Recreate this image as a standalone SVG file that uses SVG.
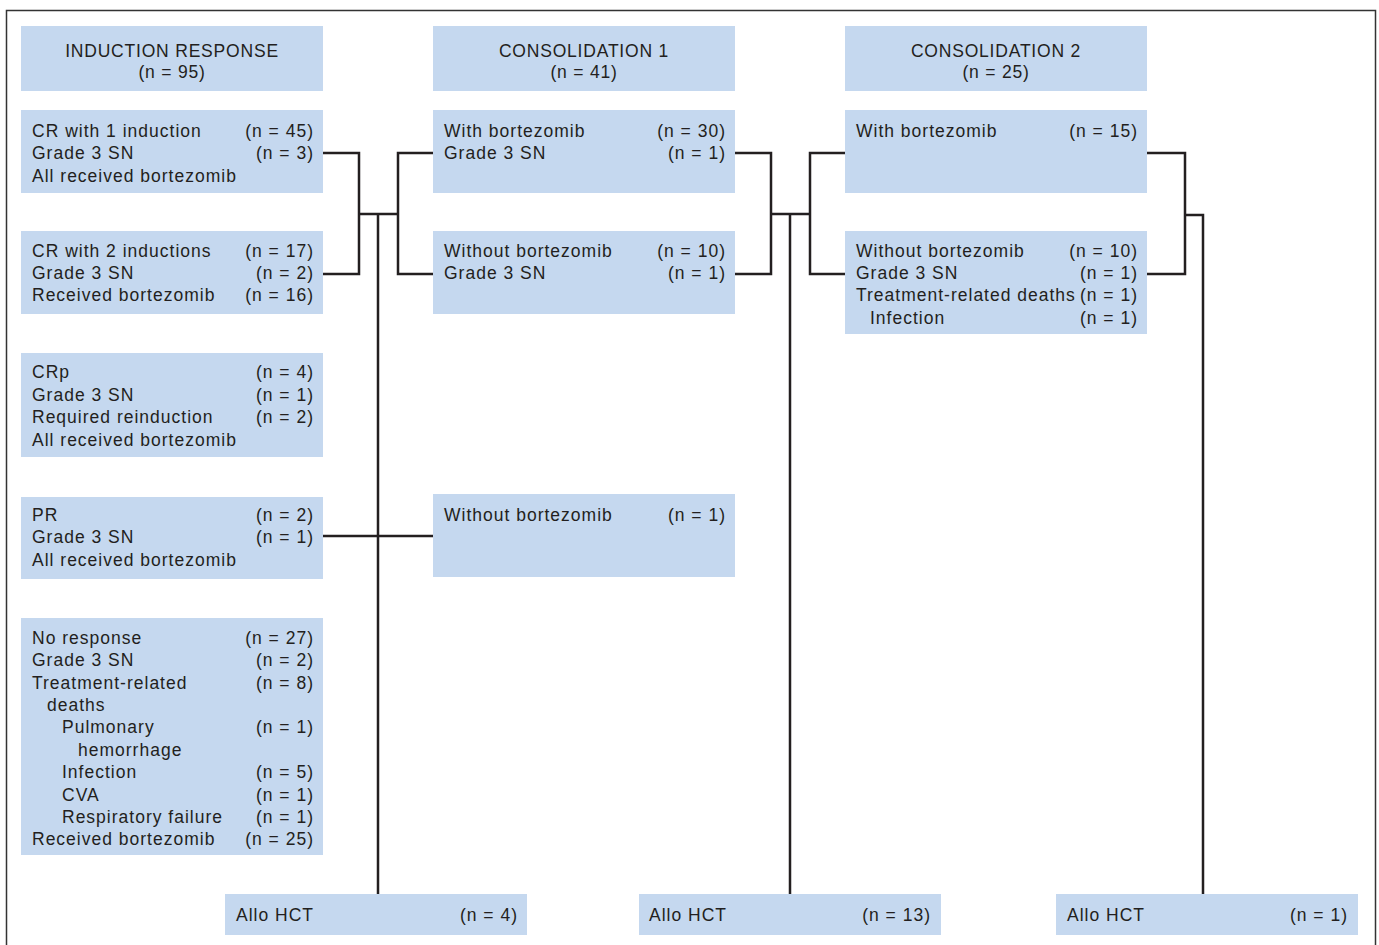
<svg xmlns="http://www.w3.org/2000/svg" width="1379" height="945" viewBox="0 0 1379 945">
<style>
.box{fill:#c5d8ef}
text{font-family:"Liberation Sans",Arial,sans-serif;font-size:17.5px;fill:#231f20;letter-spacing:1px}
.c{text-anchor:middle;letter-spacing:0.8px}
.r{text-anchor:end}
.ln{fill:none;stroke:#231f20;stroke-width:2.5}
</style>
<rect x="6.5" y="10.5" width="1369" height="960" fill="#fff" stroke="#333" stroke-width="1.5"/>

<g id="connectors">
<path class="ln" d="M323,153 H359 V274 H323"/>
<path class="ln" d="M433,153 H398 V274 H433"/>
<path class="ln" d="M359,214 H398"/>
<path class="ln" d="M378,214 V894"/>
<path class="ln" d="M735,153 H771 V274 H735"/>
<path class="ln" d="M845,153 H810 V274 H845"/>
<path class="ln" d="M771,214 H810"/>
<path class="ln" d="M790,214 V894"/>
<path class="ln" d="M1147,153 H1185 V274 H1147"/>
<path class="ln" d="M1185,215 H1203 V894"/>
<path class="ln" d="M323,536 H433"/>
</g>

<g id="hdr-induction">
<rect class="box" x="21" y="26" width="302" height="65"/>
<text class="c" x="172" y="56.5">INDUCTION RESPONSE</text>
<text class="c" x="172" y="78">(n = 95)</text>
</g>
<g id="hdr-cons1">
<rect class="box" x="433" y="26" width="302" height="65"/>
<text class="c" x="584" y="56.5">CONSOLIDATION 1</text>
<text class="c" x="584" y="78">(n = 41)</text>
</g>
<g id="hdr-cons2">
<rect class="box" x="845" y="26" width="302" height="65"/>
<text class="c" x="996" y="56.5">CONSOLIDATION 2</text>
<text class="c" x="996" y="78">(n = 25)</text>
</g>

<g id="cr1">
<rect class="box" x="21" y="110" width="302" height="83"/>
<text x="32" y="137">CR with 1 induction</text><text class="r" x="314" y="137">(n = 45)</text>
<text x="32" y="159">Grade 3 SN</text><text class="r" x="314" y="159">(n = 3)</text>
<text x="32" y="181.5">All received bortezomib</text>
</g>
<g id="cr2">
<rect class="box" x="21" y="231" width="302" height="83"/>
<text x="32" y="257">CR with 2 inductions</text><text class="r" x="314" y="257">(n = 17)</text>
<text x="32" y="279">Grade 3 SN</text><text class="r" x="314" y="279">(n = 2)</text>
<text x="32" y="301">Received bortezomib</text><text class="r" x="314" y="301">(n = 16)</text>
</g>
<g id="crp">
<rect class="box" x="21" y="353" width="302" height="104"/>
<text x="32" y="378">CRp</text><text class="r" x="314" y="378">(n = 4)</text>
<text x="32" y="401">Grade 3 SN</text><text class="r" x="314" y="401">(n = 1)</text>
<text x="32" y="423">Required reinduction</text><text class="r" x="314" y="423">(n = 2)</text>
<text x="32" y="446">All received bortezomib</text>
</g>
<g id="pr">
<rect class="box" x="21" y="497" width="302" height="82"/>
<text x="32" y="521">PR</text><text class="r" x="314" y="521">(n = 2)</text>
<text x="32" y="543">Grade 3 SN</text><text class="r" x="314" y="543">(n = 1)</text>
<text x="32" y="566">All received bortezomib</text>
</g>
<g id="noresp">
<rect class="box" x="21" y="618" width="302" height="237"/>
<text x="32" y="644">No response</text><text class="r" x="314" y="644">(n = 27)</text>
<text x="32" y="666">Grade 3 SN</text><text class="r" x="314" y="666">(n = 2)</text>
<text x="32" y="689">Treatment-related</text><text class="r" x="314" y="689">(n = 8)</text>
<text x="47" y="711">deaths</text>
<text x="62" y="733">Pulmonary</text><text class="r" x="314" y="733">(n = 1)</text>
<text x="78" y="756">hemorrhage</text>
<text x="62" y="778">Infection</text><text class="r" x="314" y="778">(n = 5)</text>
<text x="62" y="801">CVA</text><text class="r" x="314" y="801">(n = 1)</text>
<text x="62" y="823">Respiratory failure</text><text class="r" x="314" y="823">(n = 1)</text>
<text x="32" y="845">Received bortezomib</text><text class="r" x="314" y="845">(n = 25)</text>
</g>

<g id="c1-with">
<rect class="box" x="433" y="110" width="302" height="83"/>
<text x="444" y="137">With bortezomib</text><text class="r" x="726" y="137">(n = 30)</text>
<text x="444" y="159">Grade 3 SN</text><text class="r" x="726" y="159">(n = 1)</text>
</g>
<g id="c1-without">
<rect class="box" x="433" y="231" width="302" height="83"/>
<text x="444" y="257">Without bortezomib</text><text class="r" x="726" y="257">(n = 10)</text>
<text x="444" y="279">Grade 3 SN</text><text class="r" x="726" y="279">(n = 1)</text>
</g>
<g id="c1-pr-without">
<rect class="box" x="433" y="494" width="302" height="83"/>
<text x="444" y="521">Without bortezomib</text><text class="r" x="726" y="521">(n = 1)</text>
</g>

<g id="c2-with">
<rect class="box" x="845" y="110" width="302" height="83"/>
<text x="856" y="137">With bortezomib</text><text class="r" x="1138" y="137">(n = 15)</text>
</g>
<g id="c2-without">
<rect class="box" x="845" y="231" width="302" height="103"/>
<text x="856" y="257">Without bortezomib</text><text class="r" x="1138" y="257">(n = 10)</text>
<text x="856" y="279">Grade 3 SN</text><text class="r" x="1138" y="279">(n = 1)</text>
<text x="856" y="301">Treatment-related deaths</text><text class="r" x="1138" y="301">(n = 1)</text>
<text x="870" y="324">Infection</text><text class="r" x="1138" y="324">(n = 1)</text>
</g>

<g id="allo1">
<rect class="box" x="225" y="894" width="302" height="41"/>
<text x="236" y="921">Allo HCT</text><text class="r" x="518" y="921">(n = 4)</text>
</g>
<g id="allo2">
<rect class="box" x="639" y="894" width="302" height="41"/>
<text x="649" y="921">Allo HCT</text><text class="r" x="931" y="921">(n = 13)</text>
</g>
<g id="allo3">
<rect class="box" x="1056" y="894" width="302" height="41"/>
<text x="1067" y="921">Allo HCT</text><text class="r" x="1348" y="921">(n = 1)</text>
</g>
</svg>
